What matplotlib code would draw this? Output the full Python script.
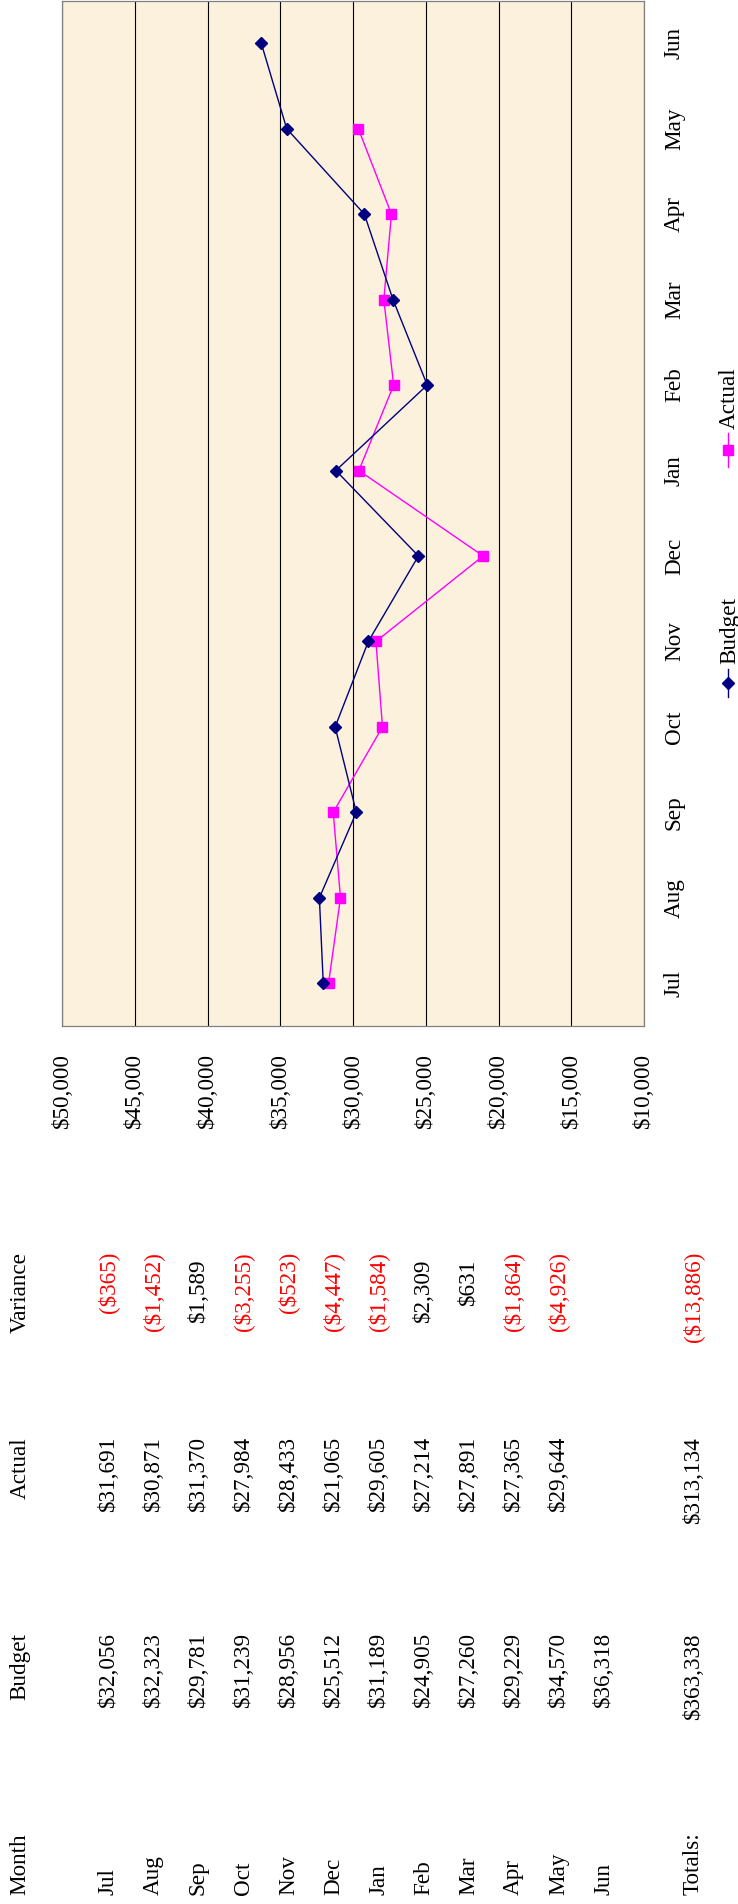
import numpy as np
import matplotlib
matplotlib.use("Agg")
import matplotlib.pyplot as plt
from matplotlib.lines import Line2D

# ---------------- data ----------------
months = ['Jul', 'Aug', 'Sep', 'Oct', 'Nov', 'Dec', 'Jan', 'Feb', 'Mar', 'Apr', 'May', 'Jun']
budget = [32056, 32323, 29781, 31239, 28956, 25512, 31189, 24905, 27260, 29229, 34570, 36318]
actual = [31691, 30871, 31370, 27984, 28433, 21065, 29605, 27214, 27891, 27365, 29644, None]
variance = [-365, -1452, 1589, -3255, -523, -4447, -1584, 2309, 631, -1864, -4926, None]
budget_total = 363338
actual_total = 313134
variance_total = -13886
value_ticks = [10000, 15000, 20000, 25000, 30000, 35000, 40000, 45000, 50000]
headers = ['Month', 'Budget', 'Actual', 'Variance']

# ---------------- style ----------------
W, H = 738, 1904
DPI = 100
FONT = 'Liberation Serif'
FS = 16.7
plt.rcParams['font.family'] = [FONT, 'DejaVu Serif']

NAVY = '#000080'
MAGENTA = '#FF00FF'
RED = '#FF0000'
BG = '#FBF1DD'


def fx(x):
    return x / W


def fy(y):
    return 1 - y / H


def money(v):
    if v is None:
        return ''
    s = '${:,.0f}'.format(abs(v))
    return '({})'.format(s) if v < 0 else s


fig = plt.figure(figsize=(W / DPI, H / DPI), dpi=DPI)

# ---------------- chart ----------------
ax_left, ax_right, ax_top, ax_bottom = 62.3, 644.0, 0.5, 1026.0
ax = fig.add_axes([fx(ax_left), fy(ax_bottom), fx(ax_right) - fx(ax_left), fy(ax_top) - fy(ax_bottom)])
ax.set_facecolor(BG)

ypos = np.arange(len(months))
act = np.array([np.nan if v is None else v for v in actual], dtype=float)

ax.plot(budget, ypos, color=NAVY, lw=1.0, marker='D', ms=6, mfc=NAVY, mec=NAVY, zorder=4)
ax.plot(act, ypos, color=MAGENTA, lw=1.0, marker='s', ms=7, mfc=MAGENTA, mec=MAGENTA, zorder=3)

ax.set_xlim(max(value_ticks), min(value_ticks))
ax.set_ylim(-0.5, len(months) - 0.5)

ax.set_xticks(value_ticks, ['${:,.0f}'.format(v) for v in value_ticks],
              rotation=90, rotation_mode='anchor', ha='right', va='center',
              fontsize=FS, fontfamily=FONT)
ax.tick_params(axis='x', length=0, pad=20)

ax.yaxis.tick_right()
ax.set_yticks(ypos, months, rotation=90, rotation_mode='anchor', ha='center', va='baseline',
              fontsize=FS, fontfamily=FONT)
ax.tick_params(axis='y', length=0, pad=25.9, left=False, right=False,
               labelleft=False, labelright=True)

ax.grid(axis='x', color='black', lw=0.8)
ax.grid(axis='y', visible=False)
ax.set_axisbelow(True)
for s in ax.spines.values():
    s.set_color('#808080')
    s.set_linewidth(0.9)

# ---------------- legend (rotated, drawn by hand) ----------------
leg_x = 727.7
for (y1, y2, color, marker, ms, label, ty) in [
        (669, 697, NAVY, 'D', 6, 'Budget', 664),
        (433, 467, MAGENTA, 's', 7, 'Actual', 429)]:
    fig.add_artist(Line2D([fx(leg_x), fx(leg_x)], [fy(y1), fy(y2)], transform=fig.transFigure,
                          color=color, lw=1.0))
    fig.add_artist(Line2D([fx(leg_x)], [fy((y1 + y2) / 2)], transform=fig.transFigure,
                          marker=marker, ms=ms, color=color, mfc=color, mec=color, lw=0))
    fig.text(fx(735), fy(ty), label, rotation=90, rotation_mode='anchor', ha='left',
             va='baseline', fontsize=FS, fontfamily=FONT)

# ---------------- table ----------------
header_base = 25.5
row0, row_step = 114.0, 45.0
totals_row = 13
paren_px = 0.333 * FS * DPI / 72

col_month = 1895       # text start (bottom)
col_budget = 1633      # text end (top)
col_actual = 1437
col_variance = 1252


def rtext(xb, y, s, ha, color='black'):
    fig.text(fx(xb), fy(y), s, rotation=90, rotation_mode='anchor', ha=ha,
             va='baseline', fontsize=FS, fontfamily=FONT, color=color)


rtext(header_base, col_month, headers[0], 'left')
rtext(header_base, col_budget, headers[1], 'right')
rtext(header_base, col_actual, headers[2], 'right')
rtext(header_base, col_variance, headers[3], 'right')


def var_text(xb, v):
    if v is None:
        return
    if v < 0:
        rtext(xb, col_variance, money(v), 'right', RED)
    else:
        rtext(xb, col_variance + paren_px, money(v), 'right')


for i, m in enumerate(months):
    xb = row0 + row_step * i
    rtext(xb, col_month, m, 'left')
    rtext(xb, col_budget, money(budget[i]), 'right')
    if actual[i] is not None:
        rtext(xb, col_actual, money(actual[i]), 'right')
    var_text(xb, variance[i])

xb = row0 + row_step * totals_row
rtext(xb, col_month, 'Totals:', 'left')
rtext(xb, col_budget, money(budget_total), 'right')
rtext(xb, col_actual, money(actual_total), 'right')
var_text(xb, variance_total)

fig.savefig('out.png', dpi=DPI, facecolor='white')
